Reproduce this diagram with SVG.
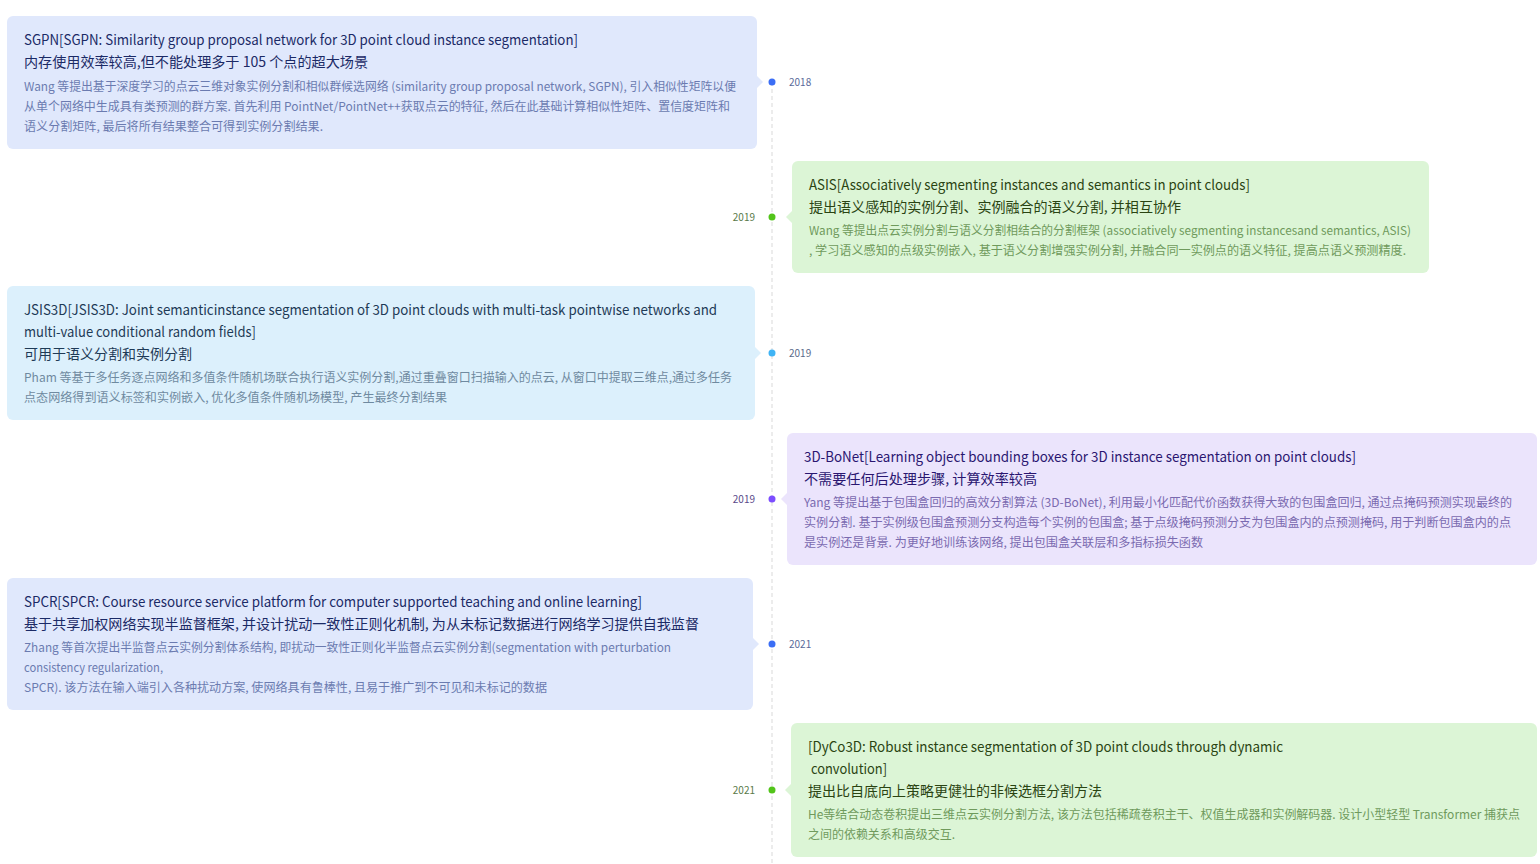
<svg xmlns="http://www.w3.org/2000/svg" width="1540" height="864" viewBox="0 0 1540 864">
<style>
text{font-family:"Noto Sans CJK SC","Liberation Sans",sans-serif}
.t{font-size:14px}
.d{font-size:12px}
.y{font-size:10px}
.blue{fill:#e0e8fc}.green{fill:#dcf5d6}.sky{fill:#dcf0fc}.purple{fill:#ebe4fc}
.tb{fill:#1b2a66}.db{fill:#6b7bb0}
.tg{fill:#2a4412}.dg{fill:#6f9a5c}
.ts{fill:#1e3a56}.ds{fill:#6f8aa0}
.tp{fill:#2a1670}.dp{fill:#7a6ab0}
</style>
<g id="connectors">
<line x1="772" y1="82" x2="772" y2="864" stroke="#d9d9d9" stroke-width="1" stroke-dasharray="4,3"/>
</g>
<g id="node-sgpn">
<rect class="blue" x="7" y="16" width="750" height="133" rx="6"/>
<polygon class="blue" points="757,76 763,82 757,88"/>
<circle cx="772" cy="82" r="3.5" fill="#3b6ef5"/>
<text class="y" x="789" y="86" fill="#5a6a9a">2018</text>
<text class="t tb" x="24" y="45" textLength="554" lengthAdjust="spacingAndGlyphs">SGPN[SGPN: Similarity group proposal network for 3D point cloud instance segmentation]</text>
<text class="t tb" x="24" y="67" textLength="344" lengthAdjust="spacingAndGlyphs">内存使用效率较高,但不能处理多于 105 个点的超大场景</text>
<text class="d db" x="24" y="91" textLength="712" lengthAdjust="spacingAndGlyphs">Wang 等提出基于深度学习的点云三维对象实例分割和相似群候选网络 (similarity group proposal network, SGPN), 引入相似性矩阵以便</text>
<text class="d db" x="24" y="111" textLength="706" lengthAdjust="spacingAndGlyphs">从单个网络中生成具有类预测的群方案. 首先利用 PointNet/PointNet++获取点云的特征, 然后在此基础计算相似性矩阵、置信度矩阵和</text>
<text class="d db" x="24" y="131" textLength="299" lengthAdjust="spacingAndGlyphs">语义分割矩阵, 最后将所有结果整合可得到实例分割结果.</text>
</g>
<g id="node-asis">
<rect class="green" x="792" y="161" width="637" height="112" rx="6"/>
<polygon class="green" points="792,211 786,217 792,223"/>
<circle cx="772" cy="217" r="3.5" fill="#52c41a"/>
<text class="y" x="755" y="221" text-anchor="end" fill="#5a7a4a">2019</text>
<text class="t tg" x="809" y="190" textLength="441" lengthAdjust="spacingAndGlyphs">ASIS[Associatively segmenting instances and semantics in point clouds]</text>
<text class="t tg" x="809" y="212" textLength="372" lengthAdjust="spacingAndGlyphs">提出语义感知的实例分割、实例融合的语义分割, 并相互协作</text>
<text class="d dg" x="809" y="235" textLength="602" lengthAdjust="spacingAndGlyphs">Wang 等提出点云实例分割与语义分割相结合的分割框架 (associatively segmenting instancesand semantics, ASIS)</text>
<text class="d dg" x="809" y="255" textLength="597" lengthAdjust="spacingAndGlyphs">, 学习语义感知的点级实例嵌入, 基于语义分割增强实例分割, 并融合同一实例点的语义特征, 提高点语义预测精度.</text>
</g>
<g id="node-jsis3d">
<rect class="sky" x="7" y="286" width="748" height="134" rx="6"/>
<polygon class="sky" points="755,347 761,353 755,359"/>
<circle cx="772" cy="353" r="3.5" fill="#40b4f5"/>
<text class="y" x="789" y="357" fill="#5a6a8a">2019</text>
<text class="t ts" x="24" y="315" textLength="693" lengthAdjust="spacingAndGlyphs">JSIS3D[JSIS3D: Joint semanticinstance segmentation of 3D point clouds with multi-task pointwise networks and</text>
<text class="t ts" x="24" y="337" textLength="232" lengthAdjust="spacingAndGlyphs">multi-value conditional random fields]</text>
<text class="t ts" x="24" y="359" textLength="168" lengthAdjust="spacingAndGlyphs">可用于语义分割和实例分割</text>
<text class="d ds" x="24" y="382" textLength="708" lengthAdjust="spacingAndGlyphs">Pham 等基于多任务逐点网络和多值条件随机场联合执行语义实例分割,通过重叠窗口扫描输入的点云, 从窗口中提取三维点,通过多任务</text>
<text class="d ds" x="24" y="402" textLength="423" lengthAdjust="spacingAndGlyphs">点态网络得到语义标签和实例嵌入, 优化多值条件随机场模型, 产生最终分割结果</text>
</g>
<g id="node-3dbonet">
<rect class="purple" x="787" y="433" width="750" height="132" rx="6"/>
<polygon class="purple" points="787,493 781,499 787,505"/>
<circle cx="772" cy="499" r="3.5" fill="#7c4dff"/>
<text class="y" x="755" y="503" text-anchor="end" fill="#5a4a8a">2019</text>
<text class="t tp" x="804" y="462" textLength="552" lengthAdjust="spacingAndGlyphs">3D-BoNet[Learning object bounding boxes for 3D instance segmentation on point clouds]</text>
<text class="t tp" x="804" y="484" textLength="233" lengthAdjust="spacingAndGlyphs">不需要任何后处理步骤, 计算效率较高</text>
<text class="d dp" x="804" y="507" textLength="708" lengthAdjust="spacingAndGlyphs">Yang 等提出基于包围盒回归的高效分割算法 (3D-BoNet), 利用最小化匹配代价函数获得大致的包围盒回归, 通过点掩码预测实现最终的</text>
<text class="d dp" x="804" y="527" textLength="707" lengthAdjust="spacingAndGlyphs">实例分割. 基于实例级包围盒预测分支构造每个实例的包围盒; 基于点级掩码预测分支为包围盒内的点预测掩码, 用于判断包围盒内的点</text>
<text class="d dp" x="804" y="547" textLength="399" lengthAdjust="spacingAndGlyphs">是实例还是背景. 为更好地训练该网络, 提出包围盒关联层和多指标损失函数</text>
</g>
<g id="node-spcr">
<rect class="blue" x="7" y="578" width="746" height="132" rx="6"/>
<polygon class="blue" points="753,638 759,644 753,650"/>
<circle cx="772" cy="644" r="3.5" fill="#3b6ef5"/>
<text class="y" x="789" y="648" fill="#5a6a9a">2021</text>
<text class="t tb" x="24" y="607" textLength="618" lengthAdjust="spacingAndGlyphs">SPCR[SPCR: Course resource service platform for computer supported teaching and online learning]</text>
<text class="t tb" x="24" y="629" textLength="675" lengthAdjust="spacingAndGlyphs">基于共享加权网络实现半监督框架, 并设计扰动一致性正则化机制, 为从未标记数据进行网络学习提供自我监督</text>
<text class="d db" x="24" y="652" textLength="647" lengthAdjust="spacingAndGlyphs">Zhang 等首次提出半监督点云实例分割体系结构, 即扰动一致性正则化半监督点云实例分割(segmentation with perturbation</text>
<text class="d db" x="24" y="672" textLength="139" lengthAdjust="spacingAndGlyphs">consistency regularization,</text>
<text class="d db" x="24" y="692" textLength="523" lengthAdjust="spacingAndGlyphs">SPCR). 该方法在输入端引入各种扰动方案, 使网络具有鲁棒性, 且易于推广到不可见和未标记的数据</text>
</g>
<g id="node-dyco3d">
<rect class="green" x="791" y="723" width="746" height="134" rx="6"/>
<polygon class="green" points="791,784 785,790 791,796"/>
<circle cx="772" cy="790" r="3.5" fill="#52c41a"/>
<text class="y" x="755" y="794" text-anchor="end" fill="#5a7a4a">2021</text>
<text class="t tg" x="808" y="752" textLength="475" lengthAdjust="spacingAndGlyphs">[DyCo3D: Robust instance segmentation of 3D point clouds through dynamic</text>
<text class="t tg" x="808" y="774" xml:space="preserve" textLength="79" lengthAdjust="spacingAndGlyphs"> convolution]</text>
<text class="t tg" x="808" y="796" textLength="294" lengthAdjust="spacingAndGlyphs">提出比自底向上策略更健壮的非候选框分割方法</text>
<text class="d dg" x="808" y="819" textLength="712" lengthAdjust="spacingAndGlyphs">He等结合动态卷积提出三维点云实例分割方法, 该方法包括稀疏卷积主干、权值生成器和实例解码器. 设计小型轻型 Transformer 捕获点</text>
<text class="d dg" x="808" y="839" textLength="147" lengthAdjust="spacingAndGlyphs">之间的依赖关系和高级交互.</text>
</g>
</svg>
